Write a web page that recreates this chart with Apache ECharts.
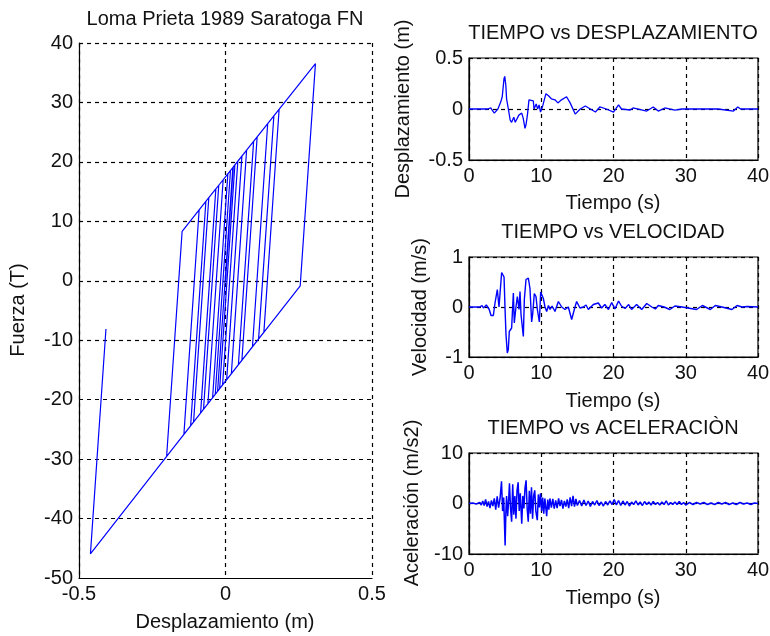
<!DOCTYPE html>
<html>
<head>
<meta charset="utf-8">
<script src="https://cdn.jsdelivr.net/npm/echarts@6/dist/echarts.min.js"></script>
<style>
html,body{margin:0;padding:0;background:#fff;}
#chart{width:770px;height:636px;}
</style>
</head>
<body>
<div id="chart"></div>
<script>
// ---- Hysteresis (force vs displacement) path, in drawing order ----
const hystX = [
  0, 0.0266, 0.307, 0.255, -0.142, -0.090, -0.067, -0.119, -0.201, -0.148,
  -0.057, -0.109, -0.057, -0.033, -0.085, -0.033, -0.023, -0.075, -0.023, 0.008,
  -0.044, 0.008, 0.025, -0.027, 0.025, 0.042, -0.010, 0.042, 0.056, 0.004,
  0.056, 0.072, 0.020, 0.072, 0.096, 0.044, 0.096, 0.108, 0.056, 0.108,
  0.144, 0.092, 0.144, 0.165, 0.113, 0.165, 0.183, 0.131, -0.020, 0.032,
  -0.020, -0.035, 0.017, -0.035, -0.060, -0.008, -0.060, -0.461, -0.408
];
const hystF = [
  0, 19.15, 36.53, -0.84, -25.85, 11.92, 13.35, -24.40, -29.56, 8.32,
  13.97, -23.77, 13.97, 15.45, -22.26, 15.45, 16.07, -21.63, 16.07, 18.0,
  -19.67, 18.0, 19.05, -18.60, 19.05, 20.10, -17.53, 20.10, 20.97, -16.65,
  20.97, 21.96, -15.64, 21.96, 23.45, -14.13, 23.45, 24.20, -13.37, 24.20,
  26.43, -11.10, 26.43, 27.73, -9.78, 27.73, 28.85, -8.65, -18.16, 19.48,
  -18.16, -19.11, 18.55, -19.11, -20.68, 17.0, -20.68, -45.94, -8.1
];

// ---- Displacement time history ----
const dispT = [
  0, 2.6, 3.0, 3.5, 4.0, 4.4, 4.6, 4.85, 4.95, 5.1,
  5.2, 5.45, 5.7, 5.9, 6.0, 6.2, 6.4, 6.6, 6.9, 7.1,
  7.3, 7.5, 7.75, 7.9, 8.1, 8.3, 8.45, 8.9, 9.0, 9.3,
  9.5, 9.7, 9.9, 10.2, 10.65, 11.0, 11.4, 11.9, 12.3, 12.8,
  13.5, 14.0, 14.7, 15.4, 16.1, 16.8, 17.5, 18.1, 19.0, 20.0,
  20.7, 21.1, 22.3, 22.7, 24.6, 25.5, 26.2, 27.1, 28.5, 29.5,
  34.5, 36.6, 37.2, 37.6, 40
];
const dispV = [
  0, 0, 0.01, -0.04, 0.0, 0.07, 0.12, 0.30, 0.32, 0.23,
  0.10, 0.0, -0.11, -0.13, -0.13, -0.08, -0.13, -0.12, -0.06, -0.07,
  -0.04, -0.09, -0.19, -0.15, -0.05, 0.09, 0.09, 0.08, 0.0, 0.05,
  0.0, 0.04, -0.03, 0.03, 0.15, 0.13, 0.10, 0.09, 0.06, 0.09,
  0.12, 0.06, -0.05, 0.0, 0.03, 0.0, -0.03, 0.02, 0.0, -0.03,
  0.04, 0.0, -0.01, 0.01, -0.02, 0.02, -0.02, 0.01, -0.01, 0,
  0, -0.02, 0.02, 0, 0
];

// ---- Velocity time history ----
const velT = [
  0, 1.5, 1.8, 2.0, 2.4, 2.8, 3.05, 3.37, 3.6, 3.92,
  4.15, 4.52, 4.7, 4.85, 4.98, 5.12, 5.3, 5.44, 5.58, 5.9,
  6.14, 6.27, 6.5, 6.69, 6.92, 7.06, 7.2, 7.52, 7.66, 7.89,
  8.21, 8.44, 8.67, 8.81, 9.04, 9.27, 9.46, 9.74, 9.92, 10.06,
  10.29, 10.52, 10.75, 11.0, 11.21, 11.5, 11.9, 12.37, 12.83, 13.29,
  13.75, 14.21, 14.67, 14.9, 15.36, 15.83, 16.2, 16.52, 17.21, 17.9,
  18.36, 18.8, 19.3, 19.75, 20.2, 20.7, 21.1, 21.6, 22.1, 22.5,
  23.2, 23.9, 24.6, 25.3, 25.8, 26.2, 27.0, 27.8, 28.5, 29.5,
  31.5, 32.3, 33.4, 34.1, 35.0, 36.4, 37.1, 37.8, 38.5, 40
];
const velV = [
  0, 0, 0.03, -0.02, 0.04, -0.05, -0.17, -0.17, 0.08, 0.35,
  0.0, 0.69, 0.68, 0.60, 0.0, -0.55, -0.92, -0.85, -0.49, -0.42,
  0.28, -0.32, 0.0, 0.21, -0.05, 0.31, -0.15, -0.59, 0.15, 0.55,
  0.58, 0.37, -0.30, -0.15, 0.27, 0.21, -0.05, -0.30, 0.30, 0.28,
  0.17, 0.0, -0.09, 0.03, -0.05, 0.02, -0.09, 0.11, 0.0, -0.05,
  0.0, -0.25, 0.0, 0.11, -0.02, 0.0, 0.04, -0.05, 0.05, 0.08,
  -0.02, 0.05, -0.05, 0.09, -0.04, 0.12, 0.02, -0.03, 0.05, -0.05,
  0.05, -0.05, 0.07, 0.0, -0.04, 0.03, 0.0, -0.05, 0.02, 0.0,
  -0.05, 0.03, -0.05, 0.03, 0.0, -0.05, 0.03, 0.0, 0.01, 0
];

// ---- Acceleration time history ----
const accT = [
  0, 0.5, 1.0, 1.5, 1.7, 1.9, 2.1, 2.3, 2.5, 2.7,
  2.9, 3.1, 3.3, 3.5, 3.7, 3.9, 4.1, 4.3, 4.5, 4.65,
  4.8, 5.0, 5.1, 5.2, 5.35, 5.5, 5.6, 5.75, 5.9, 6.05,
  6.2, 6.35, 6.5, 6.65, 6.8, 6.95, 7.1, 7.3, 7.45, 7.6,
  7.75, 7.9, 8.05, 8.2, 8.35, 8.5, 8.65, 8.8, 8.95, 9.1,
  9.25, 9.45, 9.6, 9.75, 9.9, 10.05, 10.2, 10.35, 10.5, 10.75,
  10.9, 11.05, 11.2, 11.4, 11.6, 11.8, 12.0, 12.2, 12.4, 12.6,
  12.8, 13.0, 13.2, 13.4, 13.6, 13.8, 14.0, 14.2, 14.4, 14.6,
  14.8, 15.0, 15.3, 15.6, 15.9, 16.2, 16.5, 16.8, 17.1, 17.4,
  17.7, 18.0, 18.3, 18.6, 18.9, 19.2, 19.5, 19.8, 20.1, 20.4,
  20.7, 21.0, 21.3, 21.6, 21.9, 22.2, 22.5, 22.8, 23.1, 23.4,
  23.7, 24.0, 24.3, 24.6, 24.9, 25.2, 25.5, 25.8, 26.1, 26.4,
  26.7, 27.0, 27.3, 27.6, 27.9, 28.2, 28.5, 28.8, 29.1, 29.4,
  29.7, 30.0, 30.5, 31.0, 31.5, 32.0, 32.5, 33.0, 33.5, 34.0,
  34.5, 35.0, 35.5, 36.0, 36.5, 37.0, 37.5, 38.0, 38.5, 39.0,
  39.5, 40
];
const accV = [
  0, 0.1, -0.1, 0.2, -0.3, 0.5, -0.4, 0.8, -0.6, 0.4,
  -0.9, 0.6, -0.5, 1.0, -1.2, 1.4, -0.8, 1.0, 4.4, -1.5,
  1.2, -8.3, -2.0, 1.5, -2.5, 1.0, 4.0, -1.0, -3.6, 3.8,
  -2.2, 1.5, -3.0, 2.6, 4.2, -1.5, 2.0, -4.0, 1.5, -1.0,
  3.0, 4.6, -1.0, -3.6, 2.5, -2.0, 3.2, -3.0, 1.5, 2.6,
  -1.5, -3.3, 1.8, -0.8, 2.0, -1.5, 1.2, -2.0, 1.0, -2.5,
  0.8, -1.2, 1.0, -0.8, 0.9, -1.0, 0.6, -0.9, 1.0, -0.5,
  0.7, -1.0, 0.5, -0.6, 0.8, -0.9, 1.2, -0.5, 1.5, -0.6,
  0.9, -0.4, 0.6, -0.5, 0.7, -0.4, 0.5, -0.6, 0.4, -0.3,
  0.6, -0.4, 0.3, -0.5, 0.4, -0.3, 0.5, -0.2, 0.8, -0.3,
  0.6, -0.4, 0.5, -0.3, 0.4, -0.5, 0.3, -0.2, 0.5, -0.3,
  0.3, -0.4, 0.4, -0.2, 0.3, -0.3, 0.4, -0.2, 0.2, -0.3,
  0.3, -0.2, 0.5, -0.3, 0.2, -0.2, 0.3, -0.2, 0.4, -0.2,
  0.2, -0.3, 0.2, -0.2, 0.2, -0.1, 0.2, -0.2, 0.1, -0.2,
  0.2, -0.1, 0.2, -0.2, 0.1, -0.2, 0.2, -0.1, 0.1, -0.2,
  0.1, 0
];

// ---- Axis tick settings ----
const hystXTicks = {min: -0.5, max: 0.5, interval: 0.5};
const hystYTicks = {min: -50, max: 40, interval: 10};
const timeTicks = {min: 0, max: 40, interval: 10};
const dispTicks = {min: -0.5, max: 0.5, interval: 0.5};
const velTicks = {min: -1, max: 1, interval: 1};
const accTicks = {min: -10, max: 10, interval: 10};

const FONT = '"Liberation Sans", Arial, Helvetica, sans-serif';
const FS = 20;
const TXT = '#111';
const dash = {color: '#000', type: [4, 4], width: 1.2};

function pairs(xs, ys) { return xs.map((x, i) => [x, ys[i]]); }

function axis(gridIndex, ticks, opts) {
  return Object.assign({
    type: 'value', gridIndex: gridIndex,
    min: ticks.min, max: ticks.max, interval: ticks.interval,
    axisLine: {show: true, onZero: false, lineStyle: {color: '#000', width: 1.2}},
    axisTick: {show: false},
    axisLabel: {color: TXT, fontSize: FS, fontFamily: FONT, margin: 6},
    splitLine: {show: true, lineStyle: dash}
  }, opts || {});
}

const grids = [
  {left: 79, top: 43, width: 293, height: 535, outerBoundsMode: 'none'},
  {left: 469, top: 58, width: 289, height: 102, show: true, borderColor: '#000', borderWidth: 1.2, backgroundColor: 'transparent', outerBoundsMode: 'none'},
  {left: 469, top: 257, width: 289, height: 100, show: true, borderColor: '#000', borderWidth: 1.2, backgroundColor: 'transparent', outerBoundsMode: 'none'},
  {left: 469, top: 453, width: 289, height: 101, show: true, borderColor: '#000', borderWidth: 1.2, backgroundColor: 'transparent', outerBoundsMode: 'none'}
];

function txt(text, x, y, rot) {
  return {
    type: 'text', x: x, y: y, rotation: rot || 0, z: 100,
    style: {text: text, font: FS + 'px ' + FONT, fill: TXT, align: 'center', verticalAlign: 'middle'}
  };
}

function series(name, data, idx, w) {
  return {
    type: 'line', name: name, data: data, xAxisIndex: idx, yAxisIndex: idx,
    showSymbol: false, symbol: 'none', lineStyle: {color: '#0000ff', width: w}, animation: false,
    clip: true, z: 5
  };
}

const chart = echarts.init(document.getElementById('chart'), null, {renderer: 'canvas'});
chart.setOption({
  animation: false,
  backgroundColor: '#fff',
  grid: grids,
  xAxis: [
    axis(0, hystXTicks),
    axis(1, timeTicks),
    axis(2, timeTicks),
    axis(3, timeTicks)
  ],
  yAxis: [
    axis(0, hystYTicks),
    axis(1, dispTicks),
    axis(2, velTicks),
    axis(3, accTicks)
  ],
  series: [
    series('hyst', pairs(hystX, hystF), 0, 1.2),
    series('disp', pairs(dispT, dispV), 1, 1.3),
    series('vel', pairs(velT, velV), 2, 1.4),
    series('acc', pairs(accT, accV), 3, 1.5)
  ],
  graphic: [
    txt('Loma Prieta 1989 Saratoga FN', 225, 19),
    txt('TIEMPO vs DESPLAZAMIENTO', 613, 33),
    txt('TIEMPO vs VELOCIDAD', 613, 232),
    txt('TIEMPO vs ACELERACIÒN', 613, 428),
    txt('Desplazamiento (m)', 225, 622),
    txt('Tiempo (s)', 613, 203),
    txt('Tiempo (s)', 613, 401),
    txt('Tiempo (s)', 613, 598),
    txt('Fuerza (T)', 18, 310, Math.PI / 2),
    txt('Desplazamiento (m)', 403, 109, Math.PI / 2),
    txt('Velocidad (m/s)', 420, 307, Math.PI / 2),
    txt('Aceleración (m/s2)', 412, 503, Math.PI / 2)
  ]
});
</script>
</body>
</html>
